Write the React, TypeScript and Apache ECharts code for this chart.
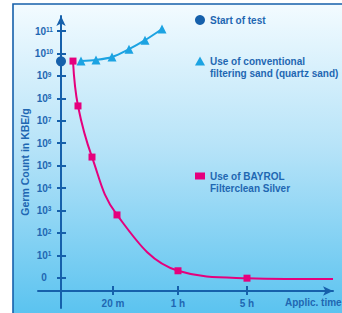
import React, { useEffect, useRef } from "react";
import * as echarts from "echarts";

// ---- data (y values are log10 exponents of germ count, "0" level = 10^0) ----
const yTickLevels = [0, 1, 2, 3, 4, 5, 6, 7, 8, 9, 10, 11];
const xTickPositions = [52, 117, 186];
const xTickLabels = ["20 m", "1 h", "5 h"];

const startX = [0];
const startY = [9.65];

const sandX = [20, 35, 51, 68, 84, 101];
const sandY = [9.66, 9.71, 9.84, 10.19, 10.59, 11.09];

const bayrolX = [12, 17, 31, 56, 117, 186, 272];
const bayrolY = [9.66, 7.66, 5.38, 2.8, 0.31, -0.02, -0.06];

const seriesNames = [
  "Start of test",
  "Use of conventional\nfiltering sand (quartz sand)",
  "Use of BAYROL\nFilterclean Silver",
];

const AX = "#1660ab";
const TXT = "#1f67b2";
const CYAN = "#1ca3e2";
const MAG = "#e5007d";
const FONT = "'Liberation Sans', Arial, sans-serif";

export default function App() {
  const ref = useRef<HTMLDivElement>(null);
  useEffect(() => {
    if (!ref.current) return;
    const chart = echarts.init(ref.current, null, { renderer: "svg" });
    const yMin = -1.35;
    const yMax = 11.67;
    const xMin = -23;
    const xMax = 272;
    const axisLineCommon = {
      lineStyle: { color: AX, width: 2 },
    };
    const yLabelFmt = (v: number) => (v === 0 ? "{b|0}" : `{b|10}{s|${v}}`);
    const legendText2 = {
      fontSize: 10,
      fontWeight: "bold",
      color: TXT,
      fontFamily: FONT,
      lineHeight: 12,
    };
    // leading blank line keeps the icon level with the first text line
    const twoLineFmt = (name: string) => "\n" + name;
    const option: any = {
      animation: false,
      graphic: [
        {
          type: "rect",
          z: -100,
          shape: { x: 13, y: 4, width: 340, height: 320 },
          style: {
            fill: new echarts.graphic.LinearGradient(0, 0, 0, 1, [
              { offset: 0, color: "#f3fbff" },
              { offset: 0.45, color: "#b6e3f8" },
              { offset: 1, color: "#55c1ef" },
            ]),
            stroke: AX,
            lineWidth: 1.6,
          },
        },
        {
          type: "text",
          left: 285,
          top: 297,
          style: {
            text: "Applic. time",
            fontSize: 10,
            fontWeight: "bold",
            fontFamily: FONT,
            fill: TXT,
          },
        },
      ],
      grid: { left: 38, right: 9, top: 16, bottom: 5, containLabel: false },
      legend: [
        {
          data: [seriesNames[0]],
          left: 195,
          top: 15,
          padding: 0,
          icon: "circle",
          itemWidth: 10,
          itemHeight: 10,
          itemGap: 5,
          textStyle: { fontSize: 10, fontWeight: "bold", color: TXT, fontFamily: FONT },
        },
        {
          data: [seriesNames[1]],
          left: 195,
          top: 43,
          padding: 0,
          icon: "triangle",
          itemWidth: 10,
          itemHeight: 9,
          formatter: twoLineFmt,
          textStyle: legendText2,
        },
        {
          data: [seriesNames[2]],
          left: 195,
          top: 158,
          padding: 0,
          icon: "rect",
          itemWidth: 10,
          itemHeight: 7,
          formatter: twoLineFmt,
          textStyle: legendText2,
        },
      ],
      xAxis: [
        {
          type: "value",
          min: xMin,
          max: xMax,
          position: "bottom",
          offset: -17,
          axisLine: { show: true, onZero: false, symbol: ["none", "arrow"], symbolSize: [7, 10], ...axisLineCommon },
          axisTick: { show: true, length: 4, customValues: xTickPositions, lineStyle: { color: AX, width: 2 } },
          axisLabel: {
            customValues: xTickPositions,
            formatter: (v: number) => xTickLabels[xTickPositions.indexOf(v)] ?? "",
            margin: 7,
            fontSize: 10,
            fontWeight: "bold",
            color: TXT,
            fontFamily: FONT,
          },
          splitLine: { show: false },
        },
        {
          type: "value",
          min: xMin,
          max: xMax,
          position: "bottom",
          offset: -17,
          axisLine: { show: false, onZero: false },
          axisTick: { show: true, inside: true, length: 5, customValues: xTickPositions, lineStyle: { color: AX, width: 2 } },
          axisLabel: { show: false },
          splitLine: { show: false },
        },
      ],
      yAxis: [
        {
          type: "value",
          min: yMin,
          max: yMax,
          position: "left",
          axisLine: { show: true, onZero: true, onZeroAxisIndex: 0, symbol: ["none", "arrow"], symbolSize: [7, 10], ...axisLineCommon },
          axisTick: { show: true, length: 4, customValues: yTickLevels, lineStyle: { color: AX, width: 2 } },
          axisLabel: {
            customValues: yTickLevels,
            formatter: yLabelFmt,
            margin: -6,
            align: "center",
            rich: {
              b: { fontSize: 10, fontWeight: "bold", color: TXT, fontFamily: FONT },
              s: { fontSize: 6.5, fontWeight: "bold", color: TXT, fontFamily: FONT, verticalAlign: "top" },
            },
          },
          splitLine: { show: false },
          name: "Germ Count in KBE/g",
          nameLocation: "middle",
          nameGap: 8,
          nameMoveOverlap: false,
          nameTextStyle: { fontSize: 10.5, fontWeight: "bold", color: TXT, fontFamily: FONT },
        },
        {
          type: "value",
          min: yMin,
          max: yMax,
          position: "left",
          axisLine: { show: false, onZero: true, onZeroAxisIndex: 1 },
          axisTick: { show: true, inside: true, length: 5, customValues: yTickLevels, lineStyle: { color: AX, width: 2 } },
          axisLabel: { show: false },
          splitLine: { show: false },
        },
      ],
      series: [
        {
          name: seriesNames[1],
          type: "line",
          smooth: 0.3,
          symbol: "triangle",
          symbolSize: 9,
          color: CYAN,
          lineStyle: { color: CYAN, width: 2 },
          itemStyle: { color: CYAN },
          data: sandX.map((x, i) => [x, sandY[i]]),
          z: 3,
        },
        {
          name: seriesNames[2],
          type: "line",
          smooth: 0.4,
          symbol: "rect",
          symbolSize: 7,
          color: MAG,
          lineStyle: { color: MAG, width: 2 },
          itemStyle: { color: MAG },
          data: bayrolX.map((x, i) =>
            i === bayrolX.length - 1 ? { value: [x, bayrolY[i]], symbol: "none" } : [x, bayrolY[i]]
          ),
          z: 3,
        },
        {
          name: seriesNames[0],
          type: "scatter",
          symbol: "circle",
          symbolSize: 10,
          color: AX,
          itemStyle: { color: AX, opacity: 1 },
          data: startX.map((x, i) => [x, startY[i]]),
          z: 4,
        },
      ],
    };
    chart.setOption(option);
    return () => chart.dispose();
  }, []);
  return <div ref={ref} style={{ width: 342, height: 313, position: "absolute", left: 0, top: 0 }} />;
}
